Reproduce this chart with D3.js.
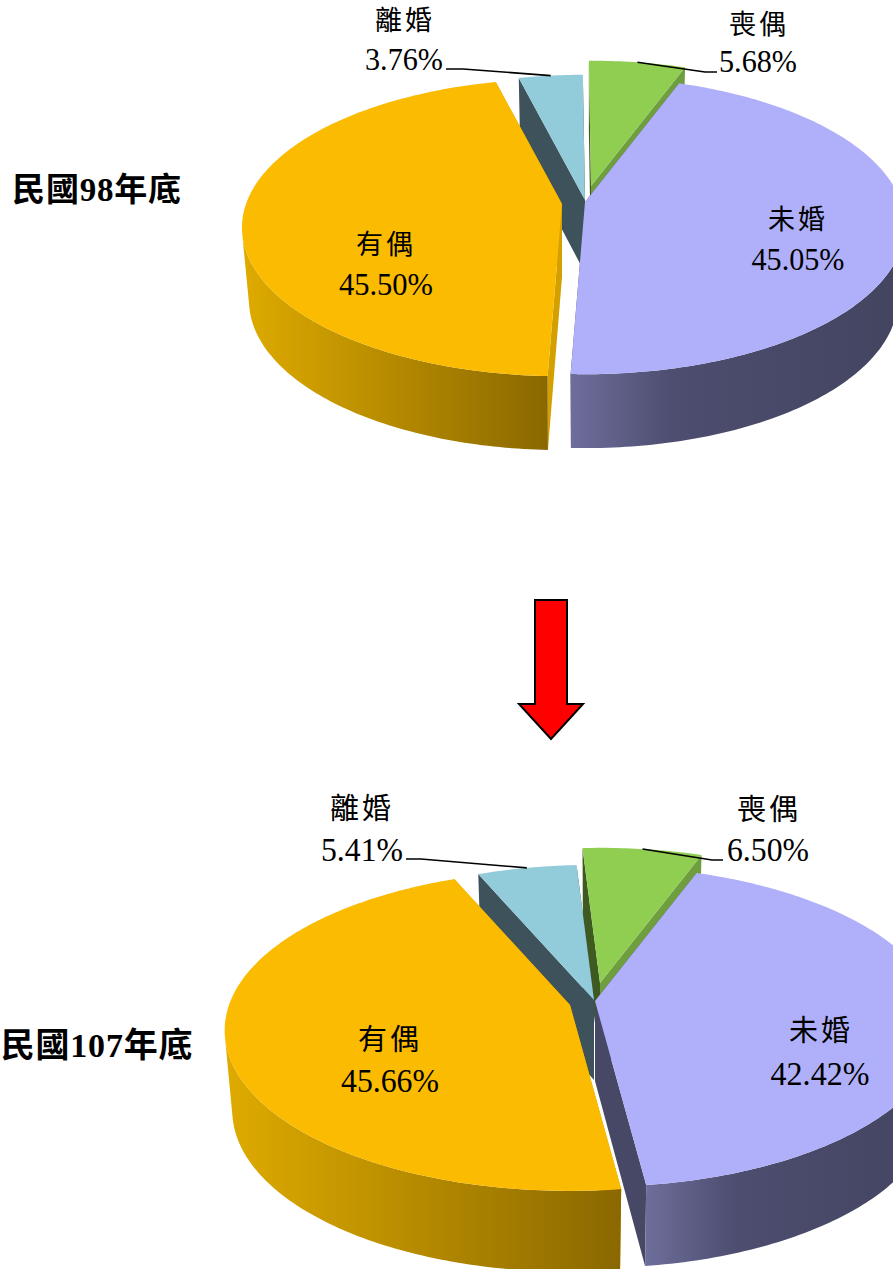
<!DOCTYPE html>
<html>
<head>
<meta charset="utf-8">
<script src="https://cdn.jsdelivr.net/npm/d3@7"></script>
<style>
html, body { margin: 0; padding: 0; background: #fff; overflow: hidden; }
text { font-family: "Liberation Serif", "Noto Sans CJK TC", serif; fill: #000; }
</style>
</head>
<body>
<script>
//Data
var categories = ["未婚", "有偶", "離婚", "喪偶"];
var values98 = [45.05, 45.50, 3.76, 5.68];
var values107 = [42.42, 45.66, 5.41, 6.50];
var titles = ["民國98年底", "民國107年底"];

//Colors per category
var topColors = ["#b0b0fa", "#fabb00", "#92cbd9", "#8fce50"];
var startWallColors = ["#474866", "#d4a000", "#3d525b", "#3f5a20"];
var endWallColors = ["#474866", "#d4a000", "#3d525b", "#6f9e3f"];
var rimGradients = [["#6e6e9c", "#43445f"], ["#dfab00", "#8a6800"], ["#3d525b", "#3d525b"], ["#6f9e3f", "#6f9e3f"]];

//Layout of the two pies, apex = exploded position of each slice
var layouts = [
    {
        values: values98, title: titles[0], titleX: 97, titleY: 201, titleFs: 33, rx: 316, fs: 30, depth: 73,
        apex: [[585, 202], [562, 204], [585, 200], [591, 186]],
        names: [[798, 229], [386, 254], [405, 30], [759, 34]],
        pct: [[798, 270, 93], [386, 295, 94], [404, 70, 78], [758, 72, 78]],
        elbow: [null, null, [463, 69, 446], [705, 72, 717]]
    },
    {
        values: values107, title: titles[1], titleX: 97, titleY: 1057, titleFs: 34, rx: 341, fs: 32, depth: 80,
        apex: [[595, 1001], [570, 1005], [594, 1000], [600, 983]],
        names: [[821, 1041], [390, 1050], [362, 819], [769, 820]],
        pct: [[820, 1085, 99], [390, 1092, 98], [362, 861, 82], [768, 861, 82]],
        elbow: [null, null, [421, 859, 406], [712, 860, 723]]
    }
];

var width = 893;
var height = 1269;
var squash = 0.459; //ry / rx
var persp = 0.158;  //far side shrinks, near side grows
var firstAngle = 20 * Math.PI / 180;

var svg = d3.select("body").append("svg")
    .attr("width", width)
    .attr("height", height)
    .style("display", "block");
var defs = svg.append("defs");

var pie = d3.pie()
    .sort(null)
    .startAngle(firstAngle)
    .endAngle(firstAngle + 2 * Math.PI);

var path = d3.line();

//Function to put a pie point on screen, z=0 top face and z=1 bottom face
function project(a, angle, r, z, l) {
    var X = r * Math.sin(angle);
    var Y = r * Math.cos(angle);
    var s = 1 / (1 + persp * Y);
    var px = l.rx * X * s;
    var py = -l.rx * squash * Y * s;
    return [
        a[0] + px * (z ? 0.978 : 1),
        a[1] + py * (z ? 1.005 : 1) + (z ? l.depth : 0)
    ];
}

function rimPoints(a, d, z, l) {
    var steps = Math.max(4, Math.ceil((d.endAngle - d.startAngle) * 60));
    return d3.range(steps + 1).map(function(i) {
        var t = d.startAngle + (d.endAngle - d.startAngle) * i / steps;
        return project(a, t, 1, z, l);
    });
}

function wallPoints(a, angle, l) {
    return [
        project(a, angle, 0, 0, l),
        project(a, angle, 1, 0, l),
        project(a, angle, 1, 1, l),
        project(a, angle, 0, 1, l)
    ];
}

//Outer wall as a strip of small quads, back facing ones are left out
function rimPath(a, d, l) {
    var upper = rimPoints(a, d, 0, l);
    var lower = rimPoints(a, d, 1, l);
    var out = "";
    for (var i = 0; i < upper.length - 1; i++) {
        var quad = [upper[i], upper[i + 1], lower[i + 1], lower[i]];
        if (d3.polygonArea(quad) > 0) {
            out += path(quad) + "Z";
        }
    }
    return out;
}

//Gradients for the outer walls
topColors.forEach(function(c, i) {
    var g = defs.append("linearGradient").attr("id", "rim" + i);
    g.append("stop").attr("offset", "0%").attr("stop-color", rimGradients[i][0]);
    if (i == 0) {
        g.append("stop").attr("offset", "30%").attr("stop-color", "#4d4e70");
    }
    g.append("stop").attr("offset", "100%").attr("stop-color", rimGradients[i][1]);
});

//--------------------Draw pies----------------//
layouts.forEach(function(l) {
    var arcs = pie(l.values);
    var chart = svg.append("g");

    //far slices first, purple last
    [3, 2, 1, 0].forEach(function(i) {
        var d = arcs[i];
        var a = l.apex[i];
        var slice = chart.append("g").attr("class", "slice");

        slice.append("path")
            .attr("d", path(wallPoints(a, d.startAngle, l)) + "Z")
            .attr("fill", startWallColors[i]);
        slice.append("path")
            .attr("d", path(wallPoints(a, d.endAngle, l)) + "Z")
            .attr("fill", endWallColors[i]);

        slice.append("path")
            .attr("d", rimPath(a, d, l))
            .attr("fill", "url(#rim" + i + ")");

        var top = [project(a, 0, 0, 0, l)].concat(rimPoints(a, d, 0, l));
        slice.append("path")
            .attr("d", path(top) + "Z")
            .attr("fill", topColors[i]);
    });

    //Leader lines go to the middle of the slice rim
    l.elbow.forEach(function(e, i) {
        if (!e) return;
        var d = arcs[i];
        var end = project(l.apex[i], (d.startAngle + d.endAngle) / 2, 1, 0, l);
        chart.append("path")
            .attr("d", path([end, [e[0], e[1]], [e[2], e[1]]]))
            .attr("fill", "none")
            .attr("stroke", "#000")
            .attr("stroke-width", 1.6);
    });

    //Labels
    categories.forEach(function(name, i) {
        chart.append("text")
            .attr("x", l.names[i][0])
            .attr("y", l.names[i][1])
            .attr("text-anchor", "middle")
            .attr("font-size", l.fs - 3)
            .attr("letter-spacing", 3)
            .text(name);
        chart.append("text")
            .attr("x", l.pct[i][0])
            .attr("y", l.pct[i][1])
            .attr("text-anchor", "middle")
            .attr("font-size", l.fs + 2)
            .attr("textLength", l.pct[i][2])
            .attr("lengthAdjust", "spacingAndGlyphs")
            .text(l.values[i].toFixed(2) + "%");
    });

    chart.append("text")
        .attr("x", l.titleX)
        .attr("y", l.titleY)
        .attr("text-anchor", "middle")
        .attr("font-size", l.titleFs)
        .attr("letter-spacing", 0.8)
        .attr("font-weight", "bold")
        .text(l.title);
});

//Arrow between the two pies
svg.append("path")
    .attr("d", path([[535, 600], [567, 600], [567, 704], [583, 704], [551, 739], [519, 704], [535, 704]]) + "Z")
    .attr("fill", "#ff0000")
    .attr("stroke", "#000")
    .attr("stroke-width", 2);
</script>
</body>
</html>
